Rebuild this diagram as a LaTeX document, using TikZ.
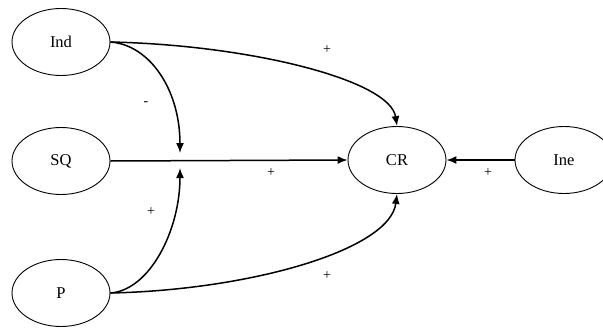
\documentclass[tikz,border=0pt]{standalone}
\usepackage{fontspec}
\setmainfont{Liberation Serif}
\usetikzlibrary{arrows.meta,shapes.geometric}
\begin{document}
\begin{tikzpicture}[x=1pt,y=-1pt,
  var/.style={ellipse,draw,line width=0.9pt,minimum width=98pt,minimum height=67pt,inner sep=0pt,font=\fontsize{16.5}{18}\selectfont},
  conn/.style={line width=1.5pt,-{Latex[length=10pt,width=8pt]}},
  sign/.style={font=\fontsize{14}{16}\selectfont,inner sep=0pt}]
\useasboundingbox (0,0) rectangle (603,327);
\node[var] (Ind) at (61,42) {Ind};
\node[var] (SQ) at (61,161) {SQ};
\node[var] (P) at (61,293) {P};
\node[var] (CR) at (397,160) {CR};
\node[var] (Ine) at (564,160) {Ine};
\coordinate (Jt) at (180,153);
\coordinate (Jb) at (180,168);
\draw[conn] (Ind.east) .. controls (250,45) and (390,80) .. (CR.north);
\draw[conn] (Ind.east) .. controls (150,45) and (180,90) .. (Jt);
\draw[conn] (SQ.east) -- (CR.west);
\draw[conn] (P.east) .. controls (150,290) and (180,230) .. (Jb);
\draw[conn] (P.east) .. controls (250,290) and (390,250) .. (CR.south);
\draw[conn] (Ine.west) -- (CR.east);
\node[sign] (s1) at (327,50) {+};
\node[sign] (s2) at (146,104) {-};
\node[sign] (s3) at (271,173) {+};
\node[sign] (s4) at (151,212) {+};
\node[sign] (s5) at (488,173) {+};
\node[sign] (s6) at (327,276) {+};
\end{tikzpicture}
\end{document}
